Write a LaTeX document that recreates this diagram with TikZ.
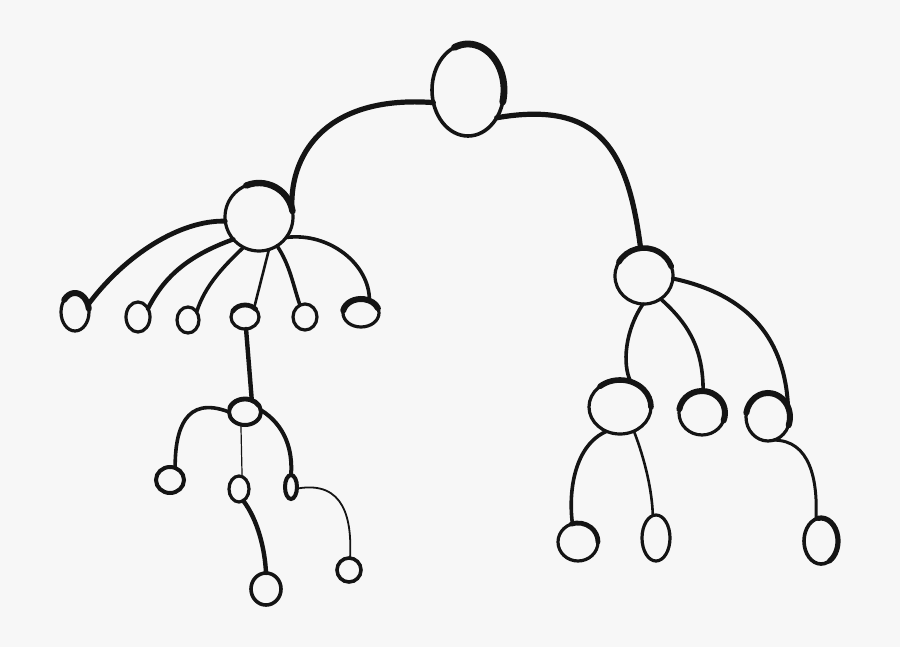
\documentclass[tikz,border=0pt]{standalone}
\usetikzlibrary{shapes.geometric}
\definecolor{bg}{HTML}{F7F7F7}
\definecolor{ink}{HTML}{141414}
\newcommand\nd[6][1.6pt]{\node[nd, line width=#1, minimum width=#5pt, minimum height=#6pt] (#2) at (#3,-#4) {};}
\newcommand\capit[6]{\draw[capline=#6] ([shift={(#2:#4 and #5)}]#1.center) arc[start angle=#2, end angle=#3, x radius=#4, y radius=#5];}
\begin{document}
\begin{tikzpicture}[x=0.5pt,y=0.5pt,
  nd/.style={ellipse, draw=ink, inner sep=0pt, outer sep=0pt},
  link/.style={draw=ink, line cap=round, line width=#1},
  capline/.style={draw=ink, line cap=round, line width=#1}]
\fill[bg] (0,0) rectangle (900,-647);
\useasboundingbox (0,0) rectangle (900,-647);
% nodes
\nd[1.8pt]{root}{468}{90}{36}{46}
\nd[1.6pt]{L}{259}{217}{34}{34}
\nd[1.6pt]{R}{644}{276}{29}{28}
\nd{c1}{75}{312}{14}{19}
\nd{c2}{138}{317}{12}{15}
\nd{c3}{188}{320}{11}{13}
\nd{c4}{245}{317}{14}{12}
\nd{c5}{305}{317}{12}{13}
\nd{c6}{361}{313}{18}{14}
\nd[2pt]{d}{245}{412}{16}{13}
\nd[2pt]{e1}{170}{480}{14}{13}
\nd{e2}{239}{489}{10}{13}
\nd[2pt]{e3}{291}{487}{6}{12}
\nd[1.8pt]{f1}{266}{589}{15}{16}
\nd[1.8pt]{f2}{349}{570}{12}{12}
\nd[1.6pt]{g1}{620}{407}{31}{27}
\nd[1.6pt]{g2}{702}{413}{23}{22}
\nd[1.6pt]{g3}{768}{417}{22}{24}
\nd{h1}{578}{542}{20}{19}
\nd{h2}{656}{538}{14}{23}
\nd[1.8pt]{h3}{821}{541}{17}{23}
% thick caps of strokes
\capit{root}{112}{-15}{36}{46}{3.4pt}
\capit{L}{112}{10}{34}{34}{3.2pt}
\capit{R}{150}{20}{29}{28}{2.8pt}
\capit{c1}{140}{10}{14}{19}{3pt}
\capit{c6}{170}{20}{18}{14}{3pt}
\capit{g1}{130}{0}{31}{27}{2.8pt}
\capit{g2}{170}{-20}{23}{22}{3pt}
\capit{g3}{170}{-20}{22}{24}{3pt}
\capit{h1}{110}{0}{20}{19}{2.4pt}
\capit{d}{160}{30}{16}{13}{2.4pt}
\capit{c4}{150}{40}{14}{12}{2.4pt}
\capit{h3}{100}{-60}{17}{23}{2.6pt}
% connectors
\draw[link=2.6pt] (root.200) .. controls (330,-95) and (290,-150) .. (L.15);
\draw[link=2.6pt] (root.316) .. controls (600,-100) and (628,-150) .. (R.97);
\draw[link=2.4pt] (L.187) .. controls (180,-220) and (125,-255) .. (c1.29);
\draw[link=2.2pt] (L.221) .. controls (190,-255) and (165,-275) .. (c2.40);
\draw[link=1.8pt] (L.243) .. controls (225,-265) and (205,-285) .. (c3.43);
\draw[link=1.3pt] (L.287) -- (c4.45);
\draw[link=1.8pt] (L.302) .. controls (290,-265) and (293,-285) .. (c5.113);
\draw[link=1.8pt] (L.323) .. controls (330,-232) and (370,-265) .. (c6.56);
\draw[link=2.2pt] (c4.275) -- (d.60);
\draw[link=1.8pt] (d.180) .. controls (185,-395) and (175,-430) .. (e1.67);
\draw[link=0.6pt] (d.252) -- (e2.76);
\draw[link=2pt] (d.7) .. controls (285,-425) and (293,-450) .. (e3.90);
\draw[link=2.2pt] (e2.290) .. controls (258,-520) and (265,-550) .. (f1.90);
\draw[link=0.9pt] (e3.345) .. controls (345,-480) and (352,-520) .. (f2.85);
\draw[link=1.8pt] (R.268) .. controls (625,-330) and (622,-365) .. (g1.67);
\draw[link=1.8pt] (R.306) .. controls (690,-325) and (703,-350) .. (g2.87);
\draw[link=2pt] (R.355) .. controls (750,-295) and (785,-340) .. (g3.26);
\draw[link=1.8pt] (g1.241) .. controls (575,-445) and (568,-490) .. (h1.107);
\draw[link=1.3pt] (g1.300) .. controls (645,-460) and (652,-490) .. (h2.98);
\draw[link=1.5pt] (g3.284) .. controls (810,-440) and (818,-480) .. (h3.103);
\end{tikzpicture}
\end{document}
